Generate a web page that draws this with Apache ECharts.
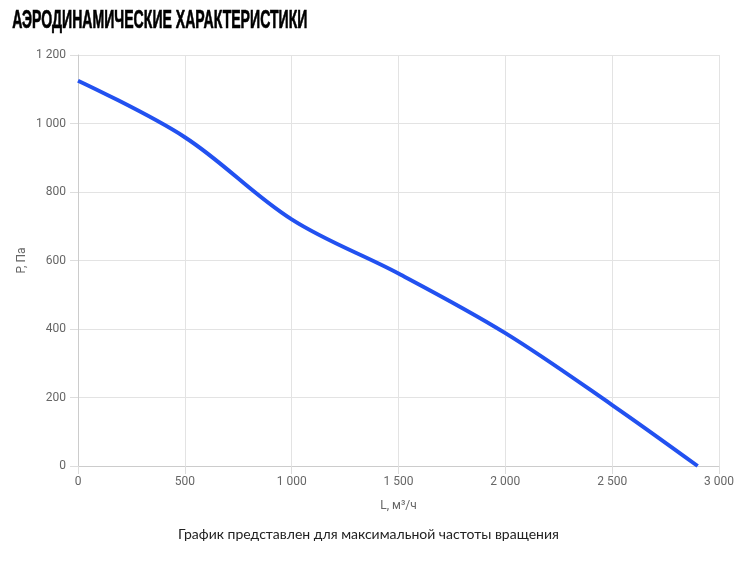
<!DOCTYPE html>
<html>
<head>
<meta charset="utf-8">
<script src="https://cdn.jsdelivr.net/npm/echarts@6/dist/echarts.min.js"></script>
<style>
html,body{margin:0;padding:0;background:#fff;}
#chart{width:737px;height:561px;}
</style>
</head>
<body>
<div id="chart"></div>
<script>
// L, м³/ч vs P, Па
var flowL = [0, 500, 1000, 1500, 2000, 2500, 2900];
var pressureP = [1125, 960, 720, 562, 388, 178, 0];
var xTicks = [0, 500, 1000, 1500, 2000, 2500, 3000];
var yTicks = [0, 200, 400, 600, 800, 1000, 1200];

function fmt(v){
	return String(v).replace(/\B(?=(\d{3})+(?!\d))/g, " ");
}

var points = [];
for(var i = 0; i < flowL.length; i++){
	points.push([flowL[i], pressureP[i]]);
}

var myChart = echarts.init(document.getElementById('chart'));
var option = {
	animation:false,
	graphic:[
		{
			type:'text',
			left:12,
			top:7,
			scaleX:0.64,
			scaleY:1.2,
			style:{
				text:'АЭРОДИНАМИЧЕСКИЕ ХАРАКТЕРИСТИКИ',
				font:'bold 22px "Liberation Sans"',
				fill:'#000',
				stroke:'#000',
				lineWidth:0.6
			}
		},
		{
			type:'text',
			left:'center',
			top:527,
			style:{
				text:'График представлен для максимальной частоты вращения',
				font:'14px "Lato"',
				fill:'#222'
			}
		}
	],
	grid:{left:78, right:17, top:55, bottom:95},
	xAxis:{
		type:'value',
		min:xTicks[0],
		max:xTicks[xTicks.length-1],
		interval:500,
		name:'L, м³/ч',
		nameLocation:'middle',
		nameGap:34,
		nameTextStyle:{color:'#666', fontSize:12, fontFamily:'Roboto'},
		axisLine:{lineStyle:{color:'#ccc'}},
		axisTick:{show:true, length:8, lineStyle:{color:'#ddd'}},
		axisLabel:{color:'#666', fontSize:12, fontFamily:'Roboto', margin:10, formatter:fmt},
		splitLine:{lineStyle:{color:'#e3e3e3'}}
	},
	yAxis:{
		type:'value',
		min:yTicks[0],
		max:yTicks[yTicks.length-1],
		interval:200,
		name:'P, Па',
		nameLocation:'middle',
		nameMoveOverlap:false,
		nameGap:50,
		nameTextStyle:{color:'#666', fontSize:12, fontFamily:'Roboto'},
		axisLine:{show:true, lineStyle:{color:'#ccc'}},
		axisTick:{show:true, length:8, lineStyle:{color:'#ddd'}},
		axisLabel:{color:'#666', fontSize:12, fontFamily:'Roboto', margin:12, formatter:fmt},
		splitLine:{lineStyle:{color:'#e3e3e3'}}
	},
	series:[{
		type:'line',
		data:points,
		smooth:0.35,
		showSymbol:false,
		lineStyle:{color:'#2251f0', width:4}
	}]
};
myChart.setOption(option);
</script>
</body>
</html>
